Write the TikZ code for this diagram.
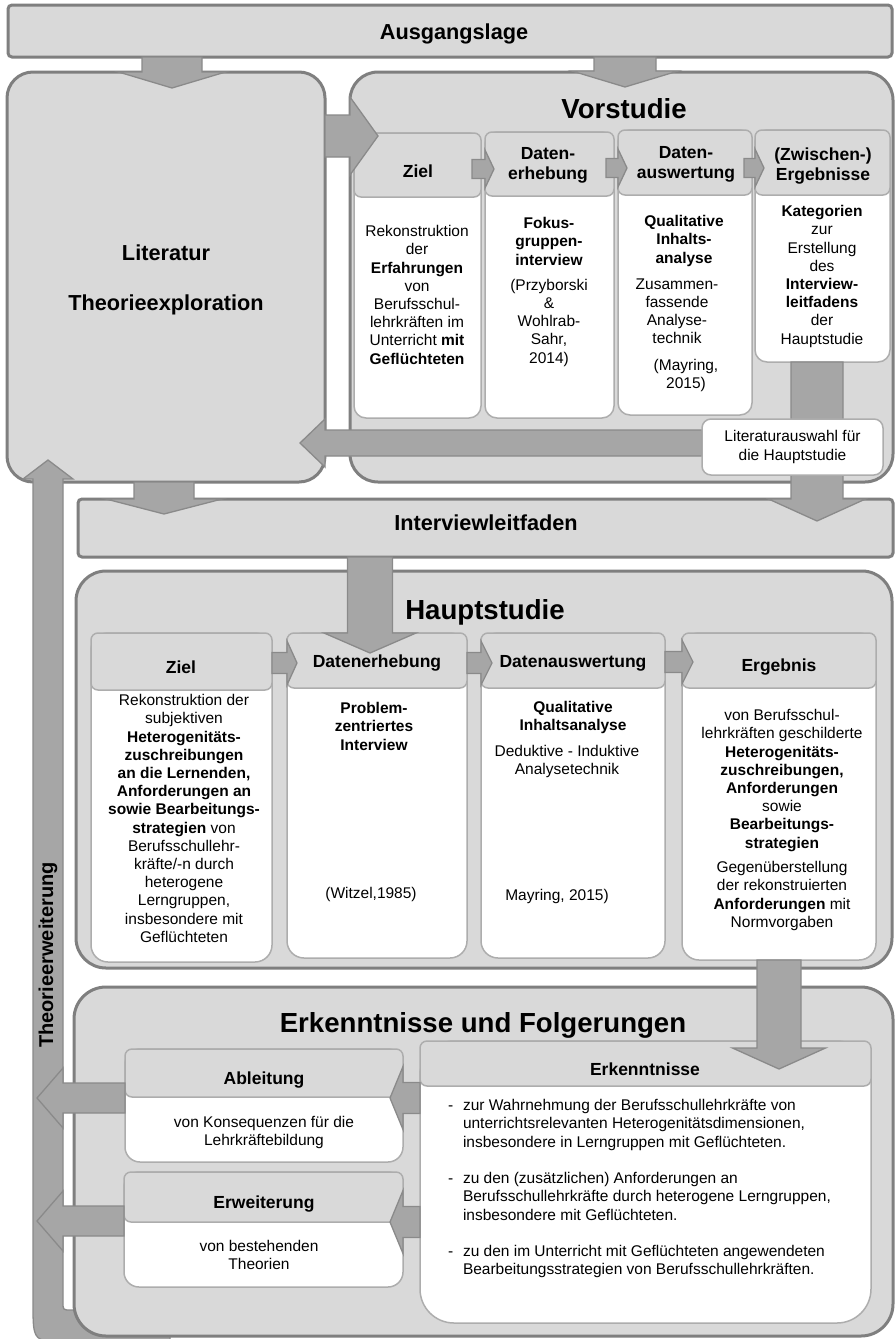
\documentclass[tikz,border=0pt]{standalone}
\usepackage{fontspec}
\setmainfont{Liberation Sans}
\usetikzlibrary{calc}

\pgfdeclarelayer{arrowlayer}
\pgfdeclarelayer{toplayer}
\pgfsetlayers{main,arrowlayer,toplayer}

\definecolor{panelgray}{HTML}{D9D9D9}
\definecolor{framegray}{HTML}{7F7F7F}
\definecolor{arrowgray}{HTML}{A6A6A6}
\definecolor{arrowedge}{HTML}{8A8A8A}
\definecolor{cardedge}{HTML}{ADADAD}

\newcommand\bodysize{\fontsize{15.5pt}{18.2pt}\selectfont}
\newcommand\cardtitlesize{\fontsize{17.5pt}{20pt}\selectfont\bfseries}
\newcommand\bigtitlesize{\fontsize{27.6pt}{30pt}\selectfont\bfseries}
\newcommand\bandtitlesize{\fontsize{21.7pt}{24pt}\selectfont\bfseries}

\tikzset{
  frame/.style={draw=framegray, line width=3pt, fill=panelgray,
    inner sep=0pt, outer sep=0pt, anchor=north west},
  cardbody/.style={draw=cardedge, line width=1.5pt, fill=white,
    inner sep=0pt, outer sep=0pt, anchor=north west},
  cardhead/.style={draw=cardedge, line width=1.5pt, fill=panelgray,
    inner sep=0pt, outer sep=0pt, anchor=north west, rounded corners=7pt},
  flow/.style={draw=arrowedge, line width=1.3pt, fill=arrowgray},
  bodytext/.style={inner sep=0pt, outer sep=0pt, anchor=north, align=center, font=\bodysize},
  lefttext/.style={inner sep=0pt, outer sep=0pt, anchor=north west, align=left, font=\bodysize},
  cardtitle/.style={inner sep=0pt, outer sep=0pt, anchor=north, align=center, font=\cardtitlesize},
  bigtitle/.style={inner sep=0pt, outer sep=0pt, anchor=north, font=\bigtitlesize},
  bandtitle/.style={inner sep=0pt, outer sep=0pt, anchor=north, font=\bandtitlesize},
}

% block arrow from #1 to the tip #2; shaft half width #3, head half width #4, head length #5
\newcommand\flowarrow[5]{%
  \coordinate (fa-base) at ($(#2)!#5!(#1)$);
  \path[flow]
    ($(#1)!#3!90:(#2)$) -- ($(fa-base)!#3!90:(#2)$) -- ($(fa-base)!#4!90:(#2)$)
    -- (#2)
    -- ($(fa-base)!#4!-90:(#2)$) -- ($(fa-base)!#3!-90:(#2)$)
    -- ($(#1)!#3!-90:(#2)$) -- cycle;}

\begin{document}
\begin{tikzpicture}[x=1pt,y=-1pt]
\useasboundingbox (0,0) rectangle (896,1339);
\fill[white] (0,0) rectangle (896,1339);

% ---------- main panels ----------
\node[frame, rounded corners=4pt, minimum width=884pt, minimum height=52pt] (ausg) at (8,5) {};
\node[frame, rounded corners=26pt, minimum width=318pt, minimum height=410pt] (lit) at (7,72) {};
\node[frame, rounded corners=28pt, minimum width=543pt, minimum height=410pt] (vor) at (350,72) {};
\node[frame, rounded corners=4pt, minimum width=815pt, minimum height=58pt] (iv) at (78,499) {};
\node[frame, rounded corners=30pt, minimum width=816pt, minimum height=397pt] (haupt) at (76,571) {};

% return bar (Theorieerweiterung), runs under the last panel
\coordinate (barin) at (63,0);
\path[flow] (33,479) -- (23,479) -- (48,460) -- (73,479) -- (63,479) -- (63,1302)
  .. controls (63,1310) .. (71,1310) -- (170,1310) -- (170,1342) -- (71,1342)
  .. controls (33,1342) .. (33,1304) -- cycle;

\node[frame, rounded corners=32pt, minimum width=819pt, minimum height=349pt] (erk) at (74,987) {};

% ---------- Vorstudie columns ----------
\node[cardbody, rounded corners=12pt, minimum width=127pt, minimum height=285pt] (vbody1) at (354,133) {};
\node[cardhead, minimum width=127pt, minimum height=64pt] (vhead1) at (354,133) {};
\node[cardbody, rounded corners=12pt, minimum width=129pt, minimum height=286pt] (vbody2) at (485,132) {};
\node[cardhead, minimum width=129pt, minimum height=64pt] (vhead2) at (485,132) {};
\node[cardbody, rounded corners=12pt, minimum width=134pt, minimum height=285pt] (vbody3) at (618,130) {};
\node[cardhead, minimum width=134pt, minimum height=65pt] (vhead3) at (618,130) {};
\node[cardbody, rounded corners=12pt, minimum width=135pt, minimum height=232pt] (vbody4) at (755,130) {};
\node[cardhead, minimum width=135pt, minimum height=65pt] (vhead4) at (755,130) {};

% ---------- Hauptstudie columns ----------
\node[cardbody, rounded corners=17pt, minimum width=181pt, minimum height=329pt] (hbody1) at (91,633) {};
\node[cardhead, minimum width=181pt, minimum height=57pt] (hhead1) at (91,633) {};
\node[cardbody, rounded corners=17pt, minimum width=180pt, minimum height=325pt] (hbody2) at (287,633) {};
\node[cardhead, minimum width=180pt, minimum height=55pt] (hhead2) at (287,633) {};
\node[cardbody, rounded corners=17pt, minimum width=184pt, minimum height=325pt] (hbody3) at (481,633) {};
\node[cardhead, minimum width=184pt, minimum height=55pt] (hhead3) at (481,633) {};
\node[cardbody, rounded corners=17pt, minimum width=194pt, minimum height=327pt] (hbody4) at (682,633) {};
\node[cardhead, minimum width=194pt, minimum height=55pt] (hhead4) at (682,633) {};

% ---------- Erkenntnisse cards ----------
\node[cardbody, rounded corners=34pt, minimum width=451pt, minimum height=282pt] (kbody) at (420,1041) {};
\node[cardhead, minimum width=451pt, minimum height=45pt] (khead) at (420,1041) {};
\node[cardbody, rounded corners=15pt, minimum width=278pt, minimum height=113pt] (abody) at (125,1049) {};
\node[cardhead, minimum width=278pt, minimum height=48pt] (ahead) at (125,1049) {};
\node[cardbody, rounded corners=15pt, minimum width=279pt, minimum height=115pt] (ebody) at (124,1172) {};
\node[cardhead, minimum width=279pt, minimum height=50pt] (ehead) at (124,1172) {};

% ---------- literature note (on top of the arrows) ----------
\begin{pgfonlayer}{toplayer}
\node[cardbody, rounded corners=9pt, minimum width=181pt, minimum height=56pt,
  align=center, font=\bodysize] (lauswahl) at (702,419) {Literaturauswahl für\\die Hauptstudie};
\end{pgfonlayer}

% ---------- block arrows ----------
\begin{pgfonlayer}{arrowlayer}
\coordinate (a1s) at (172,0 |- ausg.south);
\coordinate (a1t) at ($(172,0 |- lit.north)+(0,16)$);
\flowarrow{a1s}{a1t}{30pt}{53.5pt}{16pt}
\coordinate (a2s) at (625,0 |- ausg.south);
\coordinate (a2t) at ($(625,0 |- vor.north)+(0,15)$);
\flowarrow{a2s}{a2t}{31pt}{53pt}{16pt}
\coordinate (a3s) at (lit.east |- 0,136);
\coordinate (a3t) at ($(vor.west |- 0,136)+(28,0)$);
\flowarrow{a3s}{a3t}{21pt}{39pt}{28pt}
\coordinate (a4s) at (817,0 |- vbody4.south);
\coordinate (a4t) at ($(817,0 |- iv.north)+(0,22)$);
\flowarrow{a4s}{a4t}{26pt}{48.5pt}{22pt}
\coordinate (a5s) at (lauswahl.west |- 0,443);
\coordinate (a5t) at ($(lit.east |- 0,443)+(-25,0)$);
\flowarrow{a5s}{a5t}{13pt}{24pt}{25pt}
\coordinate (a6s) at (164,0 |- lit.south);
\coordinate (a6t) at ($(164,0 |- iv.north)+(0,15)$);
\flowarrow{a6s}{a6t}{30pt}{58pt}{15pt}
\coordinate (a7s) at (370,0 |- iv.south);
\coordinate (a7t) at ($(370,0 |- hhead2.north)+(0,20)$);
\flowarrow{a7s}{a7t}{22.5pt}{46pt}{20pt}
\coordinate (a8s) at (779,0 |- hbody4.south);
\coordinate (a8t) at ($(779,0 |- khead.north)+(0,28)$);
\flowarrow{a8s}{a8t}{22pt}{46.5pt}{21pt}
% Vorstudie steps
\coordinate (v1s) at ($(vhead1.east |- 0,169)+(-9,0)$);
\coordinate (v1t) at ($(vhead2.west |- 0,169)+(9,0)$);
\flowarrow{v1s}{v1t}{9.5pt}{19pt}{9pt}
\coordinate (v2s) at ($(vhead2.east |- 0,168)+(-8,0)$);
\coordinate (v2t) at ($(vhead3.west |- 0,168)+(9,0)$);
\flowarrow{v2s}{v2t}{9.5pt}{19pt}{9pt}
\coordinate (v3s) at ($(vhead3.east |- 0,168)+(-8,0)$);
\coordinate (v3t) at ($(vhead4.west |- 0,168)+(9,0)$);
\flowarrow{v3s}{v3t}{9.5pt}{19pt}{9pt}
% Hauptstudie steps
\coordinate (h1s) at (hhead1.east |- 0,663);
\coordinate (h1t) at ($(hhead2.west |- 0,663)+(10,0)$);
\flowarrow{h1s}{h1t}{10.5pt}{22pt}{10pt}
\coordinate (h2s) at (hhead2.east |- 0,663);
\coordinate (h2t) at ($(hhead3.west |- 0,663)+(11,0)$);
\flowarrow{h2s}{h2t}{10.5pt}{22pt}{11pt}
\coordinate (h3s) at (hhead3.east |- 0,662);
\coordinate (h3t) at ($(hhead4.west |- 0,662)+(11,0)$);
\flowarrow{h3s}{h3t}{10.5pt}{22pt}{11pt}
% Erkenntnisse to the consequences and back to the theory
\coordinate (e1s) at (kbody.west |- 0,1098);
\coordinate (e1t) at ($(abody.east |- 0,1098)+(-13,0)$);
\flowarrow{e1s}{e1t}{15.5pt}{31.5pt}{13pt}
\coordinate (e2s) at (kbody.west |- 0,1222);
\coordinate (e2t) at ($(ebody.east |- 0,1222)+(-13,0)$);
\flowarrow{e2s}{e2t}{15.5pt}{31.5pt}{13pt}
\coordinate (e3s) at (abody.west |- 0,1098);
\coordinate (e3t) at ($(barin |- 0,1098)+(-26,0)$);
\flowarrow{e3s}{e3t}{15pt}{30pt}{26pt}
\coordinate (e4s) at (ebody.west |- 0,1221);
\coordinate (e4t) at ($(barin |- 0,1221)+(-26,0)$);
\flowarrow{e4s}{e4t}{15pt}{30pt}{26pt}
\end{pgfonlayer}

% ---------- texts ----------
\begin{pgfonlayer}{toplayer}
\node[bandtitle] (tausg) at (454,24.2) {Ausgangslage};
\node[bandtitle] (tlit1) at (166,245.2) {Literatur};
\node[bandtitle] (tlit2) at (166,295.2) {Theorieexploration};
\node[bandtitle] (tiv) at (486,515.2) {Interviewleitfaden};
\node[bigtitle] (tvor) at (624,98.1) {Vorstudie};
\node[bigtitle] (thaupt) at (485,599.1) {Hauptstudie};
\node[bigtitle] (terk) at (483,1012.1) {Erkenntnisse und Folgerungen};
\node[inner sep=0pt, rotate=90, font=\fontsize{20pt}{22pt}\selectfont\bfseries] (tbar) at (48,955) {Theorieerweiterung};

% Vorstudie
\node[cardtitle] (vt1) at (418,164.7) {Ziel};
\node[cardtitle] (vt2) at (548,147.7) {Daten-\\erhebung};
\node[cardtitle] (vt3) at (686,146.7) {Daten-\\auswertung};
\node[cardtitle] (vt4) at (823,147.7) {(Zwischen-)\\Ergebnisse};
\node[bodytext] (vx1) at (417,225.5) {Rekonstruktion\\der\\\textbf{Erfahrungen}\\von\\Berufsschul-\\lehrkräften im\\Unterricht \textbf{mit}\\\textbf{Geflüchteten}};
\node[bodytext] (vx2) at (549,217.5) {\textbf{Fokus-}\\\textbf{gruppen-}\\\textbf{interview}\\[7pt](Przyborski\\\&\\Wohlrab-\\Sahr,\\2014)};
\node[bodytext] (vx3a) at (684,215.5) {\textbf{Qualitative}\\\textbf{Inhalts-}\\\textbf{analyse}};
\node[bodytext] (vx3b) at (677,278.5) {Zusammen-\\fassende\\Analyse-\\technik};
\node[bodytext] (vx3c) at (686,359.5) {(Mayring,\\2015)};
\node[bodytext] (vx4) at (822,205.5) {\textbf{Kategorien}\\zur\\Erstellung\\des\\\textbf{Interview-}\\\textbf{leitfadens}\\der\\Hauptstudie};

% Hauptstudie
\node[cardtitle] (ht1) at (181,660.7) {Ziel};
\node[cardtitle] (ht2) at (377,654.7) {Datenerhebung};
\node[cardtitle] (ht3) at (573,655.7) {Datenauswertung};
\node[cardtitle] (ht4) at (779,658.7) {Ergebnis};
\node[bodytext] (hx1) at (184,694.5) {Rekonstruktion der\\subjektiven\\\textbf{Heterogenitäts-}\\\textbf{zuschreibungen}\\\textbf{an die Lernenden,}\\\textbf{Anforderungen an}\\\textbf{sowie Bearbeitungs-}\\\textbf{strategien} von\\Berufsschullehr-\\kräfte/-n durch\\heterogene\\Lerngruppen,\\insbesondere mit\\Geflüchteten};
\node[bodytext] (hx2a) at (374,702.5) {\textbf{Problem-}\\\textbf{zentriertes}\\\textbf{Interview}};
\node[bodytext] (hx2b) at (371,887.5) {(Witzel,1985)};
\node[bodytext] (hx3a) at (573,701.5) {\textbf{Qualitative}\\\textbf{Inhaltsanalyse}};
\node[bodytext] (hx3b) at (567,745.5) {Deduktive - Induktive\\Analysetechnik};
\node[bodytext] (hx3c) at (557,889.5) {Mayring, 2015)};
\node[bodytext] (hx4a) at (782,709.5) {von Berufsschul-\\lehrkräften geschilderte\\\textbf{Heterogenitäts-}\\\textbf{zuschreibungen,}\\\textbf{Anforderungen}\\sowie\\\textbf{Bearbeitungs-}\\\textbf{strategien}};
\node[bodytext] (hx4b) at (782,861.5) {Gegenüberstellung\\der rekonstruierten\\\textbf{Anforderungen} mit\\Normvorgaben};

% Erkenntnisse und Folgerungen
\node[cardtitle] (kt) at (645,1062.7) {Erkenntnisse};
\node[lefttext] (kd1) at (448,1099.5) {\vphantom{Z}-};
\node[lefttext] (kx1) at (463,1099.5) {zur Wahrnehmung der Berufsschullehrkräfte von\\unterrichtsrelevanten Heterogenitätsdimensionen,\\insbesondere in Lerngruppen mit Geflüchteten.};
\node[lefttext] (kd2) at (448,1172.5) {\vphantom{Z}-};
\node[lefttext] (kx2) at (463,1172.5) {zu den (zusätzlichen) Anforderungen an\\Berufsschullehrkräfte durch heterogene Lerngruppen,\\insbesondere mit Geflüchteten.};
\node[lefttext] (kd3) at (448,1245.5) {\vphantom{Z}-};
\node[lefttext] (kx3) at (463,1245.5) {zu den im Unterricht mit Geflüchteten angewendeten\\Bearbeitungsstrategien von Berufsschullehrkräften.};
\node[cardtitle] (at) at (264,1071.7) {Ableitung};
\node[bodytext] (ax) at (264,1116.5) {von Konsequenzen für die\\Lehrkräftebildung};
\node[cardtitle] (et) at (264,1195.7) {Erweiterung};
\node[bodytext] (ex) at (259,1240.5) {von bestehenden\\Theorien};
\end{pgfonlayer}
\end{tikzpicture}
\end{document}
